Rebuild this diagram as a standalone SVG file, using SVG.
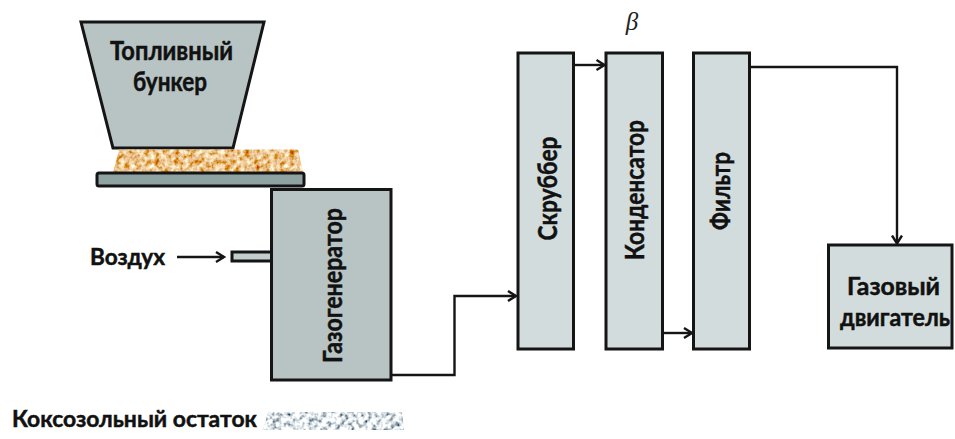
<svg xmlns="http://www.w3.org/2000/svg" width="955" height="439" viewBox="0 0 955 439">
  <defs>
    <style>
      .lbl { font-family: Lato, "Open Sans", "Liberation Sans", sans-serif; font-weight: 700; font-size: 26px; fill: #111; stroke: #111; stroke-width: 0.5; }
      .small { font-size: 23px; }
      .mid { font-size: 24.5px; }
      .box { stroke: #151515; stroke-width: 3; }
      .dark { fill: #b8c4c4; }
      .light { fill: #d3dcdc; }
      .flow { fill: none; stroke: #151515; stroke-width: 2.4; }
    </style>
    <marker id="head" markerUnits="userSpaceOnUse" markerWidth="14" markerHeight="14" refX="9" refY="6" orient="auto">
      <path d="M1,1 L9,6 L1,11" fill="none" stroke="#151515" stroke-width="2.4"/>
    </marker>
    <!-- sawdust fuel texture -->
    <filter id="cork" x="0" y="0" width="1" height="1">
      <feTurbulence type="fractalNoise" baseFrequency="0.2" numOctaves="3" seed="4" result="n"/>
      <feColorMatrix in="n" type="matrix" values="0.8 0 0 0 0.43  1.5 0 0 0 -0.2  1.5 0 0 0 -0.47  0 0 0 0 1" result="c"/>
      <feGaussianBlur in="c" stdDeviation="0.4" result="b"/>
      <feComposite in="b" in2="SourceGraphic" operator="in"/>
    </filter>
    <!-- ash residue texture -->
    <filter id="ash" x="0" y="0" width="1" height="1">
      <feTurbulence type="fractalNoise" baseFrequency="0.22" numOctaves="2" seed="9" result="n"/>
      <feColorMatrix in="n" type="matrix" values="2.4 0 0 0 -0.45  2.3 0 0 0 -0.35  2.2 0 0 0 -0.27  0 0 0 0 1" result="c"/>
      <feGaussianBlur in="c" stdDeviation="0.6" result="b"/>
      <feComposite in="b" in2="SourceGraphic" operator="in"/>
    </filter>
  </defs>

  <rect width="955" height="439" fill="#ffffff"/>

  <!-- fuel hopper -->
  <g id="hopper">
    <polygon class="box dark" points="81,22 264,22 233,148 113,148"/>
    <text class="lbl" x="171.5" y="60" text-anchor="middle" textLength="123" lengthAdjust="spacingAndGlyphs">Топливный</text>
    <text class="lbl" x="170" y="91" text-anchor="middle" textLength="74" lengthAdjust="spacingAndGlyphs">бункер</text>
  </g>

  <!-- fuel layer and feed plate -->
  <g id="fuel">
    <polygon points="119,149.5 298,149.5 303,173 113,173" fill="#d9a070" filter="url(#cork)"/>
  </g>
  <g id="plate">
    <rect class="box" x="97" y="173" width="207" height="13" rx="2" fill="#8fa3a3" stroke-width="2.4"/>
  </g>

  <!-- gasifier -->
  <g id="gasifier">
    <rect class="box" x="232" y="252" width="40" height="9" fill="#c2cdcd" stroke-width="2.2"/>
    <rect class="box dark" x="271.5" y="189.5" width="119.5" height="190.5"/>
    <text class="lbl" transform="translate(342,285.5) rotate(-90)" text-anchor="middle" textLength="155" lengthAdjust="spacingAndGlyphs">Газогенератор</text>
  </g>

  <g id="air">
    <text class="lbl small" x="90" y="265" textLength="75" lengthAdjust="spacingAndGlyphs">Воздух</text>
  </g>

  <!-- gas cleaning train -->
  <g id="scrubber">
    <rect class="box light" x="518" y="53" width="55.5" height="296"/>
    <text class="lbl" transform="translate(556.5,188.5) rotate(-90)" text-anchor="middle" textLength="104" lengthAdjust="spacingAndGlyphs">Скруббер</text>
  </g>
  <g id="condenser">
    <rect class="box light" x="606" y="53" width="56.5" height="296"/>
    <text class="lbl" transform="translate(644,190) rotate(-90)" text-anchor="middle" textLength="140" lengthAdjust="spacingAndGlyphs">Конденсатор</text>
  </g>
  <g id="beta">
    <text x="632" y="30" text-anchor="middle" font-family="'Liberation Serif', 'DejaVu Serif', serif" font-style="italic" font-size="25" fill="#222">β</text>
  </g>
  <g id="filter">
    <rect class="box light" x="693.5" y="53" width="56" height="296"/>
    <text class="lbl" transform="translate(729.5,191) rotate(-90)" text-anchor="middle" textLength="78" lengthAdjust="spacingAndGlyphs">Фильтр</text>
  </g>

  <!-- engine -->
  <g id="engine">
    <rect class="box light" x="828.5" y="245" width="123.5" height="103"/>
    <text class="lbl mid" x="893.5" y="295" text-anchor="middle" textLength="93" lengthAdjust="spacingAndGlyphs">Газовый</text>
    <text class="lbl mid" x="895" y="326" text-anchor="middle" textLength="110" lengthAdjust="spacingAndGlyphs">двигатель</text>
  </g>

  <!-- solid residue -->
  <g id="residue">
    <text class="lbl small" x="12" y="427" textLength="245" lengthAdjust="spacingAndGlyphs">Коксозольный остаток</text>
    <polygon points="268,412 402,412 404,430 263,430" fill="#c8d2d6" filter="url(#ash)"/>
  </g>

  <!-- connectors -->
  <g id="connectors">
    <line class="flow" x1="177" y1="257" x2="224" y2="257" marker-end="url(#head)"/>
    <polyline class="flow" points="391,375 454.5,375 454.5,296 516,296" marker-end="url(#head)"/>
    <line class="flow" x1="573" y1="65" x2="604.5" y2="65" marker-end="url(#head)"/>
    <line class="flow" x1="662" y1="333" x2="692" y2="333" marker-end="url(#head)"/>
    <polyline class="flow" points="749,67 897,67 897,243.5" marker-end="url(#head)"/>
  </g>
</svg>
